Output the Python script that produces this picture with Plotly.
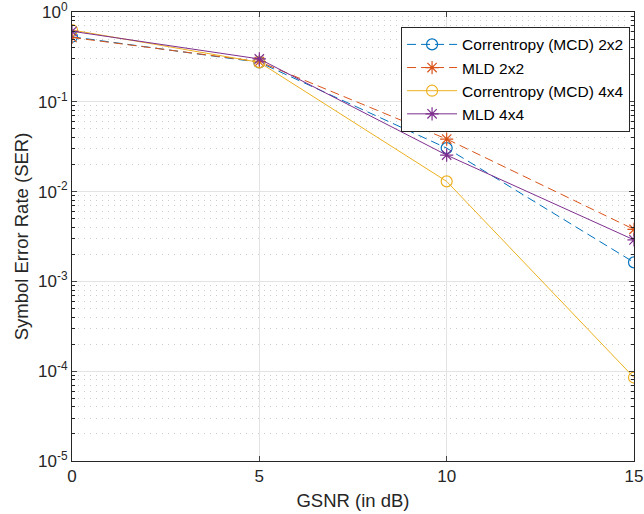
import plotly.graph_objects as go

# SNR sweep (dB)
gsnr = [0, 5, 10, 15]

# Symbol error rates per detector / antenna configuration
ser_mcd_2x2 = [0.53, 0.275, 0.0305, 0.00163]
ser_mld_2x2 = [0.52, 0.28, 0.0385, 0.0038]
ser_mcd_4x4 = [0.63, 0.275, 0.013, 0.000085]
ser_mld_4x4 = [0.61, 0.30, 0.0255, 0.0029]

y_tickvals = [1e-5, 1e-4, 1e-3, 1e-2, 1e-1, 1]
y_ticktext = ["10<sup>-5</sup>", "10<sup>-4</sup>", "10<sup>-3</sup>",
              "10<sup>-2</sup>", "10<sup>-1</sup>", "10<sup>0</sup>"]
x_tickvals = [0, 5, 10, 15]

# minor log ticks: 2..9 within each decade
y_minor = [m * d for d in y_tickvals[:-1] for m in range(2, 10)]

blue, orange, yellow, purple = "#0072BD", "#D95319", "#EDB120", "#7E2F8E"

fig = go.Figure()
series = [
    ("Correntropy (MCD) 2x2", ser_mcd_2x2, blue, "9px,5px", "circle-open"),
    ("MLD 2x2", ser_mld_2x2, orange, "9px,5px", "asterisk-open"),
    ("Correntropy (MCD) 4x4", ser_mcd_4x4, yellow, "solid", "circle-open"),
    ("MLD 4x4", ser_mld_4x4, purple, "solid", "asterisk-open"),
]
for name, ys, color, dash, sym in series:
    fig.add_trace(go.Scatter(
        x=gsnr, y=ys, name=name, mode="lines+markers",
        line=dict(color=color, width=1, dash=dash),
        marker=dict(symbol=sym, size=11, color=color, line=dict(color=color, width=1.2)),
    ))

axis_col = "#262626"
fig.update_layout(
    width=644, height=514,
    margin=dict(l=72, r=10, t=12, b=53),
    paper_bgcolor="white", plot_bgcolor="white",
    font=dict(family="Liberation Sans, Arial, sans-serif", size=17, color=axis_col),
    showlegend=True,
    legend=dict(
        x=0.993, y=0.967, xanchor="right", yanchor="top",
        bgcolor="white", bordercolor=axis_col, borderwidth=1,
        font=dict(size=15.5, color="black"), tracegroupgap=0,
        itemwidth=50,
    ),
    xaxis=dict(
        range=[0, 15], tickvals=x_tickvals, ticks="inside", ticklen=5,
        showline=True, linecolor=axis_col, linewidth=1, mirror="ticks",
        showgrid=True, gridcolor="#e3e3e3", gridwidth=1, zeroline=False,
        automargin=False, ticklabeloverflow="allow",
        title=dict(text="GSNR (in dB)", font=dict(size=18.5), standoff=8),
        tickfont=dict(size=17),
    ),
    yaxis=dict(
        type="log", range=[-5, 0], tickvals=y_tickvals, ticktext=y_ticktext,
        ticks="inside", ticklen=5,
        showline=True, linecolor=axis_col, linewidth=1, mirror="ticks",
        showgrid=True, gridcolor="#e3e3e3", gridwidth=1, zeroline=False,
        automargin=False, ticklabeloverflow="allow",
        minor=dict(tickvals=y_minor, ticks="inside", ticklen=3, tickcolor=axis_col,
                   showgrid=True, gridcolor="#cccccc", griddash="1px,5px", gridwidth=1),
        title=dict(text="Symbol Error Rate (SER)", font=dict(size=18.5), standoff=4),
        tickfont=dict(size=17),
    ),
)

fig.write_html("out.html")
